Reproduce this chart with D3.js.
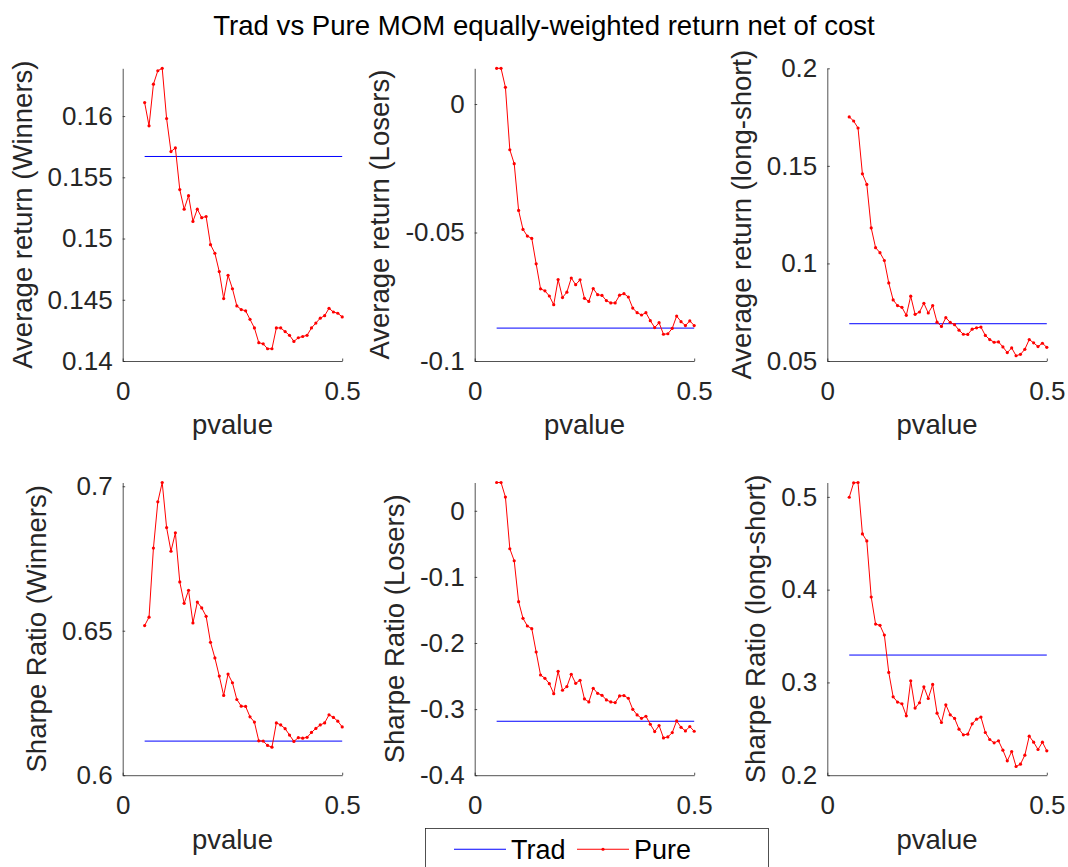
<!DOCTYPE html>
<html>
<head>
<meta charset="utf-8">
<script src="https://cdn.jsdelivr.net/npm/d3@7"></script>
<style>
  body { margin: 0; background: #fff; }
  svg { display: block; font-family: "Liberation Sans", Arial, Helvetica, sans-serif; }
</style>
</head>
<body>
<svg width="1068" height="867"></svg>
<script>
// p-value thresholds (x axis)
var pvalues = [0.05,0.06,0.07,0.08,0.09,0.10,0.11,0.12,0.13,0.14,0.15,0.16,0.17,0.18,0.19,0.20,
               0.21,0.22,0.23,0.24,0.25,0.26,0.27,0.28,0.29,0.30,0.31,0.32,0.33,0.34,0.35,0.36,
               0.37,0.38,0.39,0.40,0.41,0.42,0.43,0.44,0.45,0.46,0.47,0.48,0.49,0.50];

// Pure MOM series
var pureWinRet = [0.1611,0.1592,0.1626,0.1637,0.1639,0.1598,0.1571,0.1574,0.1540,0.1524,
                  0.1535,0.1514,0.1524,0.1517,0.1518,0.1495,0.1488,0.1473,0.1451,0.1470,
                  0.1459,0.1445,0.1442,0.1441,0.1434,0.1427,0.1415,0.1414,0.1410,0.1410,
                  0.1427,0.1427,0.1424,0.1421,0.1416,0.1419,0.1420,0.1421,0.1427,0.1431,
                  0.1435,0.1437,0.1443,0.1440,0.1439,0.1436];
var pureLosRet = [0.0139,0.0139,0.0065,-0.0178,-0.0232,-0.0414,-0.0488,-0.0514,-0.0523,-0.0622,
                  -0.0719,-0.0727,-0.0747,-0.0781,-0.0683,-0.0753,-0.0732,-0.0677,-0.0703,-0.0684,
                  -0.0756,-0.0768,-0.0718,-0.0742,-0.0745,-0.0765,-0.0774,-0.0774,-0.0744,-0.0738,
                  -0.0751,-0.0794,-0.0812,-0.0821,-0.0812,-0.0843,-0.0870,-0.0851,-0.0896,-0.0894,
                  -0.0873,-0.0825,-0.0847,-0.0862,-0.0844,-0.0862];
var pureLSRet = [0.1751,0.1730,0.1694,0.1459,0.1405,0.1182,0.1081,0.1055,0.1015,0.0900,
                 0.0813,0.0784,0.0775,0.0734,0.0832,0.0739,0.0751,0.0796,0.0746,0.0784,
                 0.0699,0.0677,0.0722,0.0698,0.0686,0.0658,0.0637,0.0636,0.0663,0.0670,
                 0.0674,0.0631,0.0610,0.0596,0.0598,0.0572,0.0543,0.0567,0.0527,0.0534,
                 0.0560,0.0610,0.0593,0.0574,0.0591,0.0570];
var pureWinSR = [0.6518,0.6547,0.6786,0.6946,0.7013,0.6857,0.6775,0.6839,0.6669,0.6595,
                 0.6640,0.6527,0.6599,0.6579,0.6550,0.6460,0.6406,0.6343,0.6276,0.6350,
                 0.6320,0.6262,0.6239,0.6238,0.6202,0.6184,0.6119,0.6118,0.6103,0.6097,
                 0.6181,0.6174,0.6161,0.6139,0.6117,0.6130,0.6128,0.6131,0.6148,0.6162,
                 0.6174,0.6181,0.6209,0.6200,0.6187,0.6167];
var pureLosSR = [0.0428,0.0428,0.0207,-0.0574,-0.0756,-0.1375,-0.1627,-0.1743,-0.1783,-0.2136,
                 -0.2484,-0.2534,-0.2615,-0.2766,-0.2428,-0.2715,-0.2660,-0.2474,-0.2610,-0.2564,
                 -0.2846,-0.2892,-0.2685,-0.2761,-0.2791,-0.2861,-0.2892,-0.2902,-0.2801,-0.2796,
                 -0.2836,-0.3003,-0.3088,-0.3139,-0.3108,-0.3229,-0.3340,-0.3249,-0.3436,-0.3421,
                 -0.3355,-0.3179,-0.3275,-0.3330,-0.3264,-0.3335];
var pureLSSR = [0.4996,0.5151,0.5155,0.4601,0.4525,0.3921,0.3629,0.3615,0.3511,0.3108,
                0.2845,0.2788,0.2770,0.2640,0.3018,0.2723,0.2781,0.2953,0.2827,0.2978,
                0.2669,0.2568,0.2759,0.2651,0.2612,0.2496,0.2435,0.2442,0.2554,0.2604,
                0.2626,0.2460,0.2385,0.2349,0.2370,0.2270,0.2155,0.2255,0.2094,0.2119,
                0.2216,0.2421,0.2356,0.2277,0.2356,0.2263];

// Trad MOM is one value per panel (flat line)
var tradValues = [0.1567, -0.0872, 0.0691, 0.6118, -0.3184, 0.3295];

var yLabels = ["Average return (Winners)", "Average return (Losers)", "Average return (long-short)",
               "Sharpe Ratio (Winners)", "Sharpe Ratio (Losers)", "Sharpe Ratio (long-short)"];
var yLimits = [[0.14, 0.1639], [-0.1, 0.0139], [0.05, 0.2], [0.6, 0.7013], [-0.4, 0.0428], [0.2, 0.5155]];
var yTicks = [[0.14, 0.145, 0.15, 0.155, 0.16], [-0.1, -0.05, 0], [0.05, 0.1, 0.15, 0.2],
              [0.6, 0.65, 0.7], [-0.4, -0.3, -0.2, -0.1, 0], [0.2, 0.3, 0.4, 0.5]];
var xTicks = [0, 0.5];
var pureSeries = [pureWinRet, pureLosRet, pureLSRet, pureWinSR, pureLosSR, pureLSSR];

var svg = d3.select("svg");
var axisColor = "#262626";
var tickFont = 26, labelFont = 27.5;

// subplot grid
var colLeft = [122.7, 474.7, 827.3], axW = 219.5;
var rowTop = [68.3, 482.5], axH = 292.7;

var fmt = function(d) { return String(+d.toFixed(4)); };

svg.append("text")
    .attr("x", 544).attr("y", 35)
    .attr("text-anchor", "middle")
    .attr("font-size", 27.6)
    .attr("fill", "#000")
    .text("Trad vs Pure MOM equally-weighted return net of cost");

pureSeries.forEach(function(series, i) {
    var left = colLeft[i % 3], top = rowTop[Math.floor(i / 3)];
    var g = svg.append("g").attr("transform", "translate(" + left + "," + top + ")");

    var x = d3.scaleLinear().domain([0, 0.5]).range([0, axW]);
    var y = d3.scaleLinear().domain(yLimits[i]).range([axH, 0]);

    // trad line
    g.append("line")
        .attr("x1", x(pvalues[0])).attr("x2", x(pvalues[pvalues.length - 1]))
        .attr("y1", y(tradValues[i])).attr("y2", y(tradValues[i]))
        .attr("stroke", "#0000ff").attr("stroke-width", 1);

    // pure line + dots
    var line = d3.line()
        .x(function(d, k) { return x(pvalues[k]); })
        .y(function(d) { return y(d); });
    g.append("path")
        .datum(series)
        .attr("d", line)
        .attr("fill", "none").attr("stroke", "#ff0000").attr("stroke-width", 1);
    g.selectAll("circle.pt")
        .data(series)
        .enter().append("circle")
        .attr("class", "pt")
        .attr("cx", function(d, k) { return x(pvalues[k]); })
        .attr("cy", function(d) { return y(d); })
        .attr("r", 1.6)
        .attr("fill", "#ff0000");

    // axes (MATLAB style: ticks inside, box off)
    var xAxis = g.append("g")
        .attr("transform", "translate(0," + axH + ")")
        .call(d3.axisBottom(x).tickValues(xTicks).tickFormat(fmt)
              .tickSizeInner(-2.5).tickSizeOuter(0).tickPadding(20.5));
    var yAxis = g.append("g")
        .call(d3.axisLeft(y).tickValues(yTicks[i]).tickFormat(fmt)
              .tickSizeInner(-2.5).tickSizeOuter(0).tickPadding(10));

    [xAxis, yAxis].forEach(function(a) {
        a.select(".domain").attr("stroke", axisColor).attr("stroke-width", 0.8);
        a.selectAll(".tick line").attr("stroke", axisColor).attr("stroke-width", 0.8);
        a.selectAll(".tick text").attr("fill", axisColor)
            .attr("font-size", tickFont).attr("font-family", null);
    });

    // bottom-middle x label sits under the legend box in the original, so it is not drawn
    if (i !== 4) {
        g.append("text")
            .attr("x", axW / 2).attr("y", axH + 73.5)
            .attr("text-anchor", "middle")
            .attr("font-size", labelFont)
            .attr("fill", axisColor)
            .text("pvalue");
    }

    // place y label just left of the widest tick label
    var tickLeft = d3.min(yAxis.selectAll(".tick text").nodes(), function(n) { return n.getBBox().x; });
    g.append("text")
        .attr("transform", "translate(" + (tickLeft - 16) + "," + (axH / 2) + ") rotate(-90)")
        .attr("text-anchor", "middle")
        .attr("font-size", labelFont)
        .attr("fill", axisColor)
        .text(yLabels[i]);
});

// legend
var legend = svg.append("g").attr("transform", "translate(425,828)");
legend.append("rect")
    .attr("x", 0.5).attr("y", 0.5)
    .attr("width", 343).attr("height", 60)
    .attr("fill", "#fff").attr("stroke", axisColor).attr("stroke-width", 0.8);
legend.append("line")
    .attr("x1", 29).attr("x2", 81).attr("y1", 21.25).attr("y2", 21.25)
    .attr("stroke", "#0000ff").attr("stroke-width", 1);
legend.append("text")
    .attr("x", 86).attr("y", 31)
    .attr("font-size", 27).attr("fill", "#000")
    .text("Trad");
legend.append("line")
    .attr("x1", 152).attr("x2", 204).attr("y1", 21.25).attr("y2", 21.25)
    .attr("stroke", "#ff0000").attr("stroke-width", 1);
legend.append("circle")
    .attr("cx", 178).attr("cy", 21.25).attr("r", 1.6).attr("fill", "#ff0000");
legend.append("text")
    .attr("x", 209).attr("y", 31)
    .attr("font-size", 27).attr("fill", "#000")
    .text("Pure");
</script>
</body>
</html>
